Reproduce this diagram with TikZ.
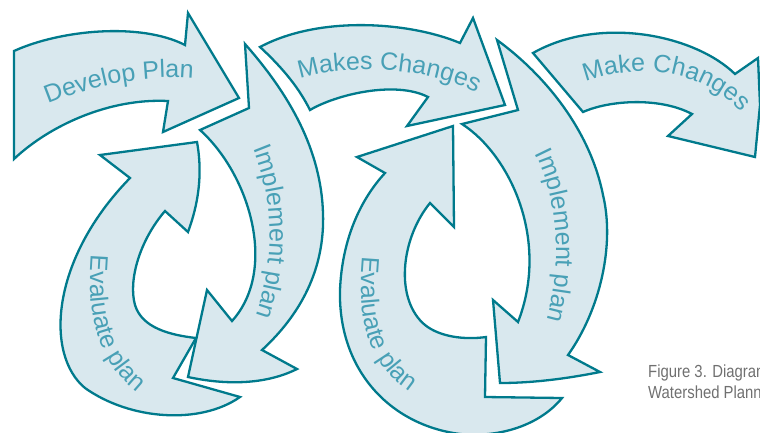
\documentclass[tikz,border=0pt]{standalone}
\usepackage{fontspec}
\setmainfont{Liberation Sans}
\newfontfamily\capfont[FakeStretch=0.85]{Liberation Sans}
\usetikzlibrary{decorations.text}
\definecolor{arrowline}{RGB}{0,122,140}
\definecolor{arrowfill}{RGB}{217,232,238}
\definecolor{arrowtext}{RGB}{72,160,182}
\definecolor{captext}{RGB}{112,112,112}
\newcommand\arrowfont{\fontsize{25}{30}\selectfont}
\begin{document}
\begin{tikzpicture}[
	x=1pt, y=-1pt,% Koordinaten wie im Bild (y nach unten)
	arrowshape/.style={draw=arrowline, fill=arrowfill, line width=2.3pt},
	arrowlabel/.style={decorate, decoration={text along path,
		text align=center, text color=arrowtext, text={|\arrowfont|#1}}}
]
\useasboundingbox (0,0) rectangle (760,432);
\clip (0,0) rectangle (760,432);
%
% Develop Plan
\path[arrowshape] (14,51) -- (14,159)
	.. controls (50,125) and (110,98) .. (168,101)
	-- (163,132) -- (239,98) -- (188,13) -- (185,45)
	.. controls (140,22) and (60,30) .. cycle;
% Implement plan (links)
\path[arrowshape] (245,44) -- (249,108) -- (200,130)
	.. controls (250,175) and (278,270) .. (232,321)
	-- (207,290) -- (188,377)
	.. controls (225,385) and (265,385) .. (297,369)
	-- (262,350)
	.. controls (300,315) and (325,270) .. (323,213)
	.. controls (321,150) and (290,95) .. cycle;
% Evaluate plan (links)
\path[arrowshape] (130,178) -- (100,155) -- (197,142)
	.. controls (203,175) and (198,205) .. (188,232)
	-- (165,211)
	.. controls (140,240) and (128,280) .. (135,305)
	.. controls (142,328) and (170,335) .. (196,338)
	-- (173,378) -- (240,397)
	.. controls (200,425) and (130,420) .. (85,388)
	.. controls (45,355) and (50,260) .. cycle;
% Makes Changes
\path[arrowshape] (260,47)
	.. controls (285,70) and (300,90) .. (310,110)
	.. controls (335,95) and (395,80) .. (428,97)
	-- (407,126) -- (505,105) -- (473,18) -- (460,43)
	.. controls (410,22) and (320,15) .. cycle;
% Implement plan (rechts)
\path[arrowshape] (497,40) -- (518,110) -- (462,124)
	.. controls (510,155) and (550,240) .. (518,322)
	-- (493,300) -- (500,383)
	.. controls (535,383) and (570,378) .. (600,372)
	-- (568,355)
	.. controls (600,310) and (615,245) .. (603,195)
	.. controls (590,130) and (545,75) .. cycle;
% Evaluate plan (rechts)
\path[arrowshape] (385,173) -- (357,157) -- (453,126) -- (454,227)
	-- (430,203)
	.. controls (400,240) and (395,300) .. (425,325)
	.. controls (440,337) and (465,340) .. (486,337)
	-- (485,397) -- (562,398)
	.. controls (540,425) and (500,438) .. (460,434)
	.. controls (390,425) and (338,370) .. (340,290)
	.. controls (342,240) and (360,200) .. cycle;
% Make Changes
\path[arrowshape] (533,53) -- (583,112)
	.. controls (610,100) and (660,97) .. (692,114)
	-- (668,136) -- (755,157) -- (760,105) -- (758,58) -- (735,74)
	.. controls (695,35) and (600,15) .. cycle;
%
% Beschriftung
\path[arrowlabel={Develop Plan}] (36,109) .. controls (90,85) and (150,72) .. (206,80);
\path[arrowlabel={Implement plan}] (244,130) .. controls (272,180) and (282,260) .. (248,335);
\path[arrowlabel={Evaluate plan}] (92,245) .. controls (85,310) and (95,365) .. (145,398);
\path[arrowlabel={Makes Changes}] (296,80) .. controls (330,66) and (420,62) .. (480,95);
\path[arrowlabel={Implement plan}] (527,140) .. controls (558,185) and (566,270) .. (542,335);
\path[arrowlabel={Evaluate plan}] (363,250) .. controls (355,320) and (370,370) .. (415,395);
\path[arrowlabel={Make Changes}] (576,86) .. controls (620,65) and (700,60) .. (748,120);
%
\node(cap_a)%
	[anchor=base west, align=left, inner sep=0pt, text=captext,
	font=\capfont\fontsize{17.5}{21}\selectfont]%
	at (648,398)%
	{Figure 3. Diagram\\Watershed Plann};%
%
\end{tikzpicture}
\end{document}
